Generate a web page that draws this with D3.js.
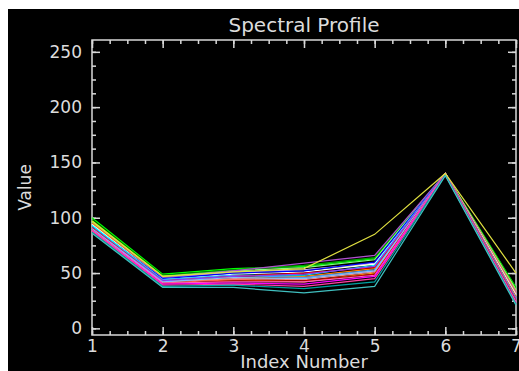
<!DOCTYPE html>
<html>
<head>
<meta charset="utf-8">
<script src="https://cdn.jsdelivr.net/npm/d3@7"></script>
<style>
  html, body { margin: 0; padding: 0; background: #fff; }
  svg text { font-family: 'DejaVu Sans', sans-serif; fill: #dcdcdc; }
</style>
</head>
<body>
<div id="chart"></div>
<script>
const indexNumbers = [1, 2, 3, 4, 5, 6, 7];
const yTicks = [0, 50, 100, 150, 200, 250];

// one profile per pixel, values at index 1..7
const profiles = [
  [100, 49, 54, 56, 63, 140, 37],
  [98, 48, 53, 57, 64, 140, 36],
  [96, 47, 52, 55, 62, 140, 35],
  [97, 47, 50, 53, 58, 140, 34],
  [95, 46, 52, 59, 66, 140, 33],
  [95, 45, 46, 47, 54, 140, 32],
  [93, 45, 51, 53, 59, 140, 31],
  [94, 44, 49, 51, 58, 140, 30],
  [92, 43, 44, 42, 50, 140, 29],
  [92, 45, 50, 52, 60, 140, 28],
  [90, 41, 44, 46, 52, 140, 28],
  [93, 44, 48, 48, 57, 140, 27],
  [91, 42, 45, 44, 51, 140, 27],
  [91, 44, 48, 46, 53, 140, 27],
  [91, 43, 47, 50, 55, 140, 26],
  [90, 43, 47, 49, 56, 140, 26],
  [90, 42, 46, 45, 52, 140, 25],
  [89, 40, 43, 43, 49, 140, 25],
  [89, 41, 42, 42, 48, 140, 24],
  [88, 40, 41, 40, 47, 139, 23],
  [88, 39, 40, 38, 45, 139, 23],
  [87, 38, 39, 36, 42, 139, 22],
  [86, 37, 37, 32, 38, 138, 21],
  [97, 47, 51, 54, 85, 140, 50]
];

const lineColors = [
  '#00ff00', '#00a000', '#80ff80', '#c0ff00', '#b050d0', '#ff8000',
  '#c0a0ff', '#ffffff', '#ffc000', '#0000ff', '#ff6040', '#00ffff',
  '#ff8080', '#40a0ff', '#ff0000', '#8040ff', '#80c0ff', '#c00000',
  '#ff60c0', '#ff00ff', '#ff40a0', '#00a0a0', '#40c0c0', '#e0e040'
];

const width = 519;
const height = 371;
const margin = { top: 40, right: 3, bottom: 36, left: 92 };

const svg = d3.select('#chart')
  .append('svg')
  .attr('width', width)
  .attr('height', height);

svg.append('rect')
  .attr('x', 8)
  .attr('y', 9)
  .attr('width', width - 8)
  .attr('height', height - 9)
  .attr('fill', '#000');

const x = d3.scaleLinear()
  .domain([1, 7])
  .range([margin.left, width - margin.right]);

const y = d3.scaleLinear()
  .domain([-6, 260.7])
  .range([height - margin.bottom, margin.top]);

const axisColor = '#d8d8d8';

function styleAxis(g) {
  g.select('.domain').remove();
  g.selectAll('line').attr('stroke', axisColor).attr('stroke-width', 1.5);
  g.selectAll('text').attr('font-size', '17px').attr('fill', '#dcdcdc');
}

const xMinor = d3.range(1, 7.001, 0.25);
const yMinor = d3.range(0, 260, 12.5);

// bottom axis (ticks pointing up)
svg.append('g')
  .attr('transform', `translate(0,${height - margin.bottom})`)
  .call(d3.axisBottom(x).tickValues(xMinor).tickSize(-4).tickFormat(''))
  .call(styleAxis);
svg.append('g')
  .attr('transform', `translate(0,${height - margin.bottom})`)
  .call(d3.axisBottom(x).tickValues(indexNumbers).tickSize(-8).tickPadding(5).tickFormat(d3.format('d')))
  .call(styleAxis);

// top axis (ticks pointing down)
svg.append('g')
  .attr('transform', `translate(0,${margin.top})`)
  .call(d3.axisTop(x).tickValues(xMinor).tickSize(-4).tickFormat(''))
  .call(styleAxis);
svg.append('g')
  .attr('transform', `translate(0,${margin.top})`)
  .call(d3.axisTop(x).tickValues(indexNumbers).tickSize(-8).tickFormat(''))
  .call(styleAxis);

// left axis (ticks pointing right)
svg.append('g')
  .attr('transform', `translate(${margin.left},0)`)
  .call(d3.axisLeft(y).tickValues(yMinor).tickSize(-4).tickFormat(''))
  .call(styleAxis);
svg.append('g')
  .attr('transform', `translate(${margin.left},0)`)
  .call(d3.axisLeft(y).tickValues(yTicks).tickSize(-8).tickPadding(10).tickFormat(d3.format('d')))
  .call(styleAxis);

// right axis (ticks pointing left)
svg.append('g')
  .attr('transform', `translate(${width - margin.right},0)`)
  .call(d3.axisRight(y).tickValues(yMinor).tickSize(-4).tickFormat(''))
  .call(styleAxis);
svg.append('g')
  .attr('transform', `translate(${width - margin.right},0)`)
  .call(d3.axisRight(y).tickValues(yTicks).tickSize(-8).tickFormat(''))
  .call(styleAxis);

// frame
svg.append('rect')
  .attr('x', margin.left)
  .attr('y', margin.top)
  .attr('width', width - margin.right - margin.left)
  .attr('height', height - margin.bottom - margin.top)
  .attr('fill', 'none')
  .attr('stroke', axisColor)
  .attr('stroke-width', 1.5);

const line = d3.line()
  .x((d, i) => x(indexNumbers[i]))
  .y(d => y(d));

svg.append('g')
  .selectAll('path')
  .data(profiles)
  .join('path')
  .attr('d', line)
  .attr('fill', 'none')
  .attr('stroke', (d, i) => lineColors[i])
  .attr('stroke-width', 1.2);

svg.append('text')
  .attr('x', (margin.left + width - margin.right) / 2)
  .attr('y', 32)
  .attr('text-anchor', 'middle')
  .attr('font-size', '20px')
  .text('Spectral Profile');

svg.append('text')
  .attr('x', (margin.left + width - margin.right) / 2)
  .attr('y', 368)
  .attr('text-anchor', 'middle')
  .attr('font-size', '18px')
  .text('Index Number');

svg.append('text')
  .attr('transform', `translate(31,${(margin.top + height - margin.bottom) / 2}) rotate(-90)`)
  .attr('text-anchor', 'middle')
  .attr('font-size', '17px')
  .text('Value');
</script>
</body>
</html>
